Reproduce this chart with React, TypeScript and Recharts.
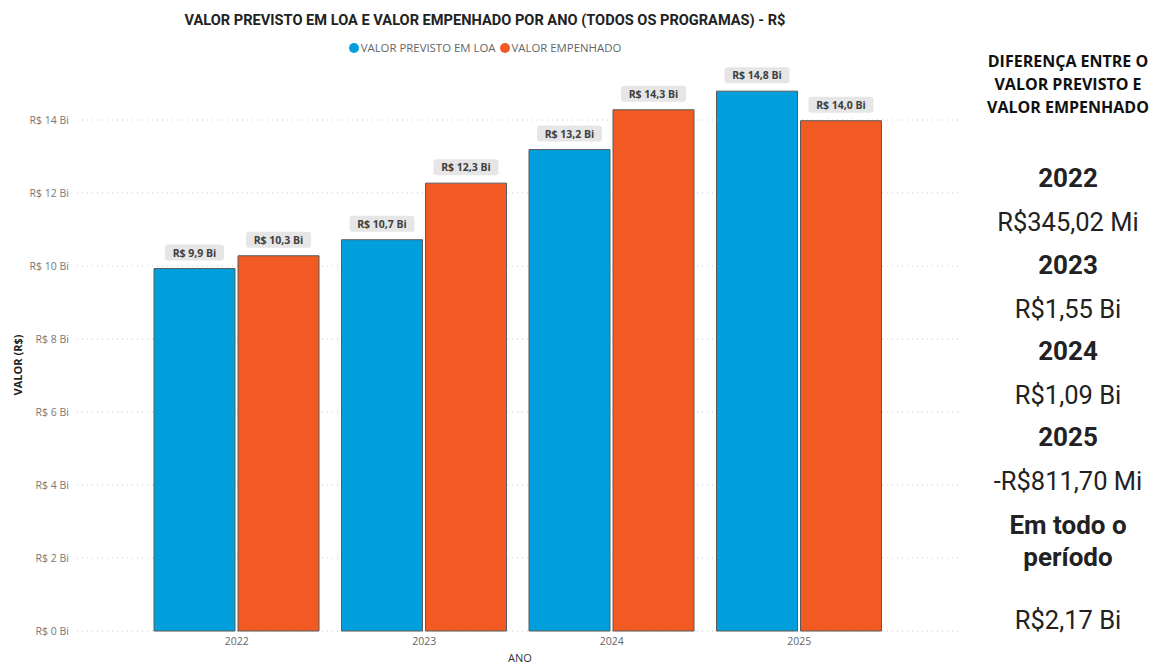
import React from "react";
import { BarChart, Bar, XAxis, YAxis, CartesianGrid, LabelList } from "recharts";

const years = ["2022", "2023", "2024", "2025"];
const previsto = [9.93, 10.72, 13.19, 14.79];
const empenhado = [10.28, 12.27, 14.28, 13.98];
const yTicks = [0, 2, 4, 6, 8, 10, 12, 14];
const diffYears = ["2022", "2023", "2024", "2025"];
const diffLabels = ["R$345,02 Mi", "R$1,55 Bi", "R$1,09 Bi", "-R$811,70 Mi"];
const totalLabel = "R$2,17 Bi";

const BLUE = "#019FDB";
const ORANGE = "#F15A22";

const data = years.map((y, i) => ({ ano: y, previsto: previsto[i], empenhado: empenhado[i] }));

const fmt = (v: number) => `R$ ${v.toFixed(1).replace(".", ",")} Bi`;

const ValueLabel = (props: any) => {
  const { x, y, width, value } = props;
  const text = fmt(Number(value));
  const w = text.length * 6 + 5;
  const cx = Number(x) + Number(width) / 2;
  const top = Number(y) - 24;
  return (
    <g>
      <rect x={cx - w / 2} y={top} width={w} height={16} rx={3} fill="#e6e6e6" />
      <text x={cx} y={top + 12} textAnchor="middle" fontFamily="'Open Sans', sans-serif" fontWeight={700} fontSize={10.5} fill="#404040">
        {text}
      </text>
    </g>
  );
};

const rightTitle: React.CSSProperties = { fontFamily: "'Open Sans', sans-serif", fontWeight: 700, fontSize: 16, color: "#111", lineHeight: "23px" };
const yearStyle: React.CSSProperties = { fontFamily: "Roboto, sans-serif", fontWeight: 700, fontSize: 26, color: "#222", position: "absolute", left: 0, width: "100%", textAlign: "center" };
const valStyle: React.CSSProperties = { fontFamily: "Roboto, sans-serif", fontWeight: 400, fontSize: 25.5, color: "#222", position: "absolute", left: 0, width: "100%", textAlign: "center" };

export default function App() {
  const yPos = [180, 267, 353, 439];
  const vPos = [224, 311, 397, 483];
  return (
    <div style={{ position: "relative", width: 1155, height: 664, background: "#fff", overflow: "hidden" }}>
      <style>{"body{margin:0}"}</style>
      <div style={{ position: "absolute", left: 0, width: 970, top: 11, textAlign: "center", fontFamily: "Roboto, sans-serif", fontWeight: 700, fontSize: 14.6, color: "#222" }}>
        VALOR PREVISTO EM LOA E VALOR EMPENHADO POR ANO (TODOS OS PROGRAMAS) - R$
      </div>
      <div style={{ position: "absolute", left: 0, width: 970, top: 40, display: "flex", justifyContent: "center", alignItems: "center", fontFamily: "'Open Sans', sans-serif", fontSize: 11.4, color: "#666" }}>
        <span style={{ width: 10, height: 10, borderRadius: 5, background: BLUE, display: "inline-block", marginRight: 2 }} />
        <span style={{ marginRight: 4 }}>VALOR PREVISTO EM LOA</span>
        <span style={{ width: 10, height: 10, borderRadius: 5, background: ORANGE, display: "inline-block", marginRight: 2 }} />
        <span>VALOR EMPENHADO</span>
      </div>
      <div style={{ position: "absolute", left: 0, top: 0 }}>
        <BarChart width={970} height={664} data={data} margin={{ top: 47, right: 10, bottom: 3, left: 0 }} barSize={81} barGap={3}>
          <CartesianGrid vertical={false} stroke="#c8c8c8" strokeDasharray="1 4" horizontalValues={yTicks} />
          <XAxis dataKey="ano" axisLine={false} tickLine={false} height={30} tickMargin={1} padding={{ left: 66, right: 67 }}
            tick={{ fill: "#666", fontSize: 10.5, fontFamily: "'Open Sans', sans-serif" }} />
          <YAxis width={77} domain={[0, 16]} ticks={yTicks} axisLine={false} tickLine={false} interval={0}
            tickFormatter={(v: number) => `R$ ${v} Bi`}
            tick={{ fill: "#777", fontSize: 10.5, fontFamily: "'Open Sans', sans-serif" }} />
          <Bar dataKey="previsto" fill={BLUE} stroke="#5a5a5a" strokeWidth={1} isAnimationActive={false}>
            <LabelList dataKey="previsto" content={ValueLabel} />
          </Bar>
          <Bar dataKey="empenhado" fill={ORANGE} stroke="#5a5a5a" strokeWidth={1} isAnimationActive={false}>
            <LabelList dataKey="empenhado" content={ValueLabel} />
          </Bar>
        </BarChart>
      </div>
      <div style={{ position: "absolute", left: 508, top: 650, fontFamily: "'Open Sans', sans-serif", fontSize: 11, color: "#333" }}>ANO</div>
      <div style={{ position: "absolute", left: 17, top: 365, transform: "translate(-50%, -50%) rotate(-90deg)", fontFamily: "'Open Sans', sans-serif", fontWeight: 700, fontSize: 11, color: "#222", whiteSpace: "nowrap" }}>VALOR (R$)</div>
      <div style={{ position: "absolute", left: 975, top: 50, width: 186, textAlign: "center", ...rightTitle }}>
        DIFERENÇA ENTRE O<br />VALOR PREVISTO E<br />VALOR EMPENHADO
      </div>
      <div style={{ position: "absolute", left: 981, top: 0, width: 174, height: 664 }}>
        {diffYears.map((y, i) => (
          <React.Fragment key={y}>
            <div style={{ ...yearStyle, top: yPos[i] - 17 }}>{y}</div>
            <div style={{ ...valStyle, top: vPos[i] - 17 }}>{diffLabels[i]}</div>
          </React.Fragment>
        ))}
        <div style={{ ...yearStyle, top: 509, lineHeight: "32px" }}>Em todo o<br />período</div>
        <div style={{ ...valStyle, top: 605 }}>{totalLabel}</div>
      </div>
    </div>
  );
}
